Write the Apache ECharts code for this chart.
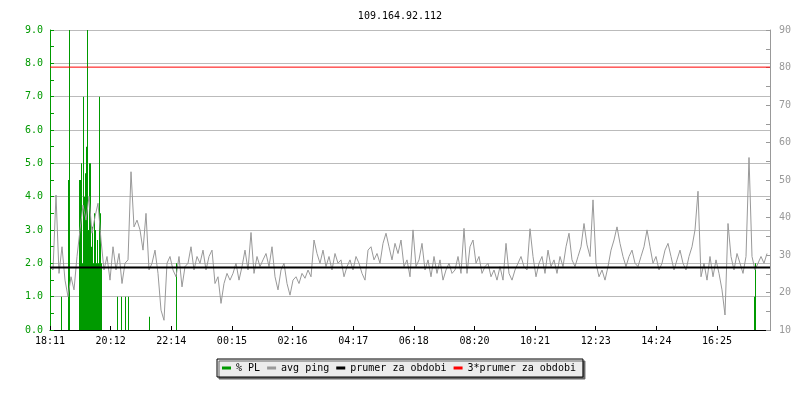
<!DOCTYPE html>
<html>
<head>
<meta charset="utf-8">
<title>109.164.92.112</title>
<script src="https://cdn.jsdelivr.net/npm/echarts@6/dist/echarts.min.js"></script>
<style>
  html, body { margin: 0; padding: 0; background: #fff; }
  #chart { width: 800px; height: 400px; }
</style>
</head>
<body>
<div id="chart"></div>
<script>
// time axis: minutes since 18:11, one day
const spanMinutes = 1440
const xLabels = ['18:11', '20:12', '22:14', '00:15', '02:16', '04:17', '06:18', '08:20', '10:21', '12:23', '14:24', '16:25']
const labelStep = 1334 / 11

// % PL (left axis), minute -> value
const plTimes = [22, 36, 38,
  58, 60, 62, 64, 66, 68, 70, 72, 74, 76, 78, 80, 82, 84, 86, 88, 90, 92, 94, 96, 98, 100, 102,
  134, 142, 150, 156, 198, 252, 1408, 1410]
const plValues = [1.0, 4.5, 9.0,
  4.5, 4.5, 5.0, 2.0, 7.0, 4.0, 4.7, 5.5, 9.0, 3.0, 5.0, 5.0, 2.5, 3.1, 2.0, 3.5, 3.0, 2.0, 2.7, 2.0, 7.0, 3.5, 2.0,
  1.0, 1.0, 1.0, 1.0, 0.4, 2.0, 1.0, 2.0]

// avg ping (right axis), one sample every 6 minutes
const pingStep = 6
const pingValues = [
  26.9, 26, 46, 25.1, 32.2, 23.3, 18.9, 24.2, 20.7, 29.6,
  36.7, 43.3, 39.3, 45.6, 35.8, 40.2, 43.8, 34, 26, 29.6,
  23.3, 32.2, 26, 30.4, 22.4, 27.8, 28.7, 52.2, 37.5, 39.3,
  36.7, 31.3, 41.1, 26, 27.8, 31.3, 25.1, 15.3, 12.6, 27.8,
  29.6, 26, 24.2, 29.6, 21.5, 26.9, 27.8, 32.2, 26, 29.6,
  27.8, 31.3, 26, 29.6, 31.3, 22.4, 24.2, 17.1, 22.4, 25.1,
  23.3, 25.1, 27.8, 23.3, 26.9, 31.3, 26, 36, 25.1, 29.6,
  26.9, 28.7, 30.4, 26.9, 32.2, 24.2, 20.7, 26, 27.8, 22.4,
  19.3, 23.3, 24.2, 22.4, 25.1, 23.8, 26, 24.2, 34, 30.4,
  27.8, 31.3, 26.9, 29.6, 26, 30.4, 27.8, 28.7, 24.2, 26.9,
  28.7, 26, 29.6, 27.8, 25.1, 23.3, 31.3, 32.2, 28.7, 30.4,
  27.8, 33.1, 35.8, 32.2, 28.7, 33.1, 30.4, 34, 26.9, 28.7,
  24.2, 36.7, 26.9, 28.7, 33.1, 26, 28.7, 24.2, 29.6, 25.1,
  28.7, 23.3, 26, 27.8, 25.1, 26, 29.6, 25.1, 37.1, 25.1,
  32.2, 34, 27.8, 29.6, 25.1, 26.9, 27.8, 24.2, 26, 23.3,
  26.9, 23.3, 33.1, 25.1, 23.3, 26, 27.8, 29.6, 26.9, 26,
  37, 29.6, 24.2, 27.8, 29.6, 25.1, 31.3, 26.9, 28.7, 25.1,
  29.6, 26.9, 32.2, 35.8, 28.7, 26.9, 29.6, 32.2, 38.4, 32.7,
  29.6, 44.7, 27.8, 24.2, 26, 23.3, 26.9, 31.3, 34, 37.5,
  33.1, 29.6, 26.9, 29.6, 31.3, 27.8, 26.9, 29.6, 32.2, 36.7,
  32.2, 27.8, 29.6, 26, 27.8, 31.3, 33.1, 29.6, 26, 28.7,
  31.3, 27.8, 26, 29.6, 32.2, 36.7, 47, 24.2, 27.8, 23.3,
  29.6, 24.2, 28.7, 25.1, 20.7, 14, 38.4, 29.6, 26, 30.4,
  27.8, 25.1, 29.6, 56, 29.6, 26, 27.8, 29.6, 27.8, 30.4
]

// period average and 3x average (right axis)
const avgPing = 26.7
const avgPing3 = 80.1

const font = 'DejaVu Sans Mono'
const green = '#009a00'
const chart = echarts.init(document.getElementById('chart'))

// one pixel wide impulse per loss sample, snapped to the pixel grid
const renderImpulse = (params, api) => {
  const top = api.coord([api.value(0), api.value(1)])
  const base = api.coord([api.value(0), 0])
  return {
    type: 'rect',
    shape: { x: Math.floor(top[0]), y: top[1], width: 1, height: base[1] - top[1] },
    style: { fill: green }
  }
}

const option = {
  animation: false,
  backgroundColor: '#fff',
  textStyle: { fontFamily: font, fontSize: 10 },
  title: {
    text: '109.164.92.112',
    left: 'center',
    top: 6,
    textStyle: { fontFamily: font, fontSize: 10, fontWeight: 'normal', color: '#000' }
  },
  legend: {
    left: 217,
    top: 359,
    icon: 'rect',
    itemWidth: 9,
    itemHeight: 3,
    itemGap: 7,
    padding: [4, 7, 4, 5],
    backgroundColor: '#ececec',
    borderColor: '#000',
    borderWidth: 1,
    shadowColor: '#666',
    shadowBlur: 0,
    shadowOffsetX: 2,
    shadowOffsetY: 2,
    textStyle: { fontFamily: font, fontSize: 10, color: '#000' },
    data: ['% PL', 'avg ping', 'prumer za obdobi', '3*prumer za obdobi']
  },
  grid: { left: 50, right: 30, top: 30, bottom: 70 },
  xAxis: {
    type: 'value',
    min: 0,
    max: spanMinutes,
    interval: labelStep,
    axisLine: { lineStyle: { color: '#000' } },
    axisTick: { inside: true, length: 4, lineStyle: { color: '#000' } },
    axisLabel: {
      color: '#000',
      fontFamily: font,
      fontSize: 10,
      margin: 6,
      showMaxLabel: false,
      formatter: v => {
        const i = Math.round(v / labelStep)
        return Math.abs(v - i * labelStep) < 1 && xLabels[i] ? xLabels[i] : ''
      }
    },
    splitLine: { show: false }
  },
  yAxis: [
    {
      type: 'value',
      min: 0,
      max: 9,
      interval: 1,
      position: 'left',
      axisLine: { show: true, lineStyle: { color: green } },
      axisTick: { show: true, inside: true, length: 4, lineStyle: { color: green } },
      minorTick: { show: true, splitNumber: 2, length: 4, lineStyle: { color: green } },
      axisLabel: { color: green, fontFamily: font, fontSize: 10, margin: 7, formatter: v => v.toFixed(1) },
      splitLine: { show: true, lineStyle: { color: '#bbb', width: 1 } }
    },
    {
      type: 'value',
      min: 10,
      max: 90,
      interval: 10,
      position: 'right',
      axisLine: { show: true, lineStyle: { color: '#999' } },
      axisTick: { show: true, inside: true, length: 4, lineStyle: { color: '#999' } },
      minorTick: { show: true, splitNumber: 2, length: 4, lineStyle: { color: '#999' } },
      axisLabel: { color: '#999', fontFamily: font, fontSize: 10, margin: 9 },
      splitLine: { show: false }
    }
  ],
  series: [
    {
      name: '% PL',
      type: 'custom',
      yAxisIndex: 0,
      renderItem: renderImpulse,
      itemStyle: { color: green },
      encode: { x: 0, y: 1 },
      clip: true,
      z: 1,
      data: plTimes.map((t, i) => [t, plValues[i]])
    },
    {
      name: 'avg ping',
      type: 'line',
      yAxisIndex: 1,
      symbol: 'none',
      lineStyle: { color: '#999', width: 1 },
      itemStyle: { color: '#999' },
      z: 2,
      data: pingValues.map((v, i) => [i * pingStep, v])
    },
    {
      name: 'prumer za obdobi',
      type: 'line',
      yAxisIndex: 1,
      symbol: 'none',
      lineStyle: { color: '#000', width: 2 },
      itemStyle: { color: '#000' },
      z: 3,
      data: [[0, avgPing], [spanMinutes, avgPing]]
    },
    {
      name: '3*prumer za obdobi',
      type: 'line',
      yAxisIndex: 1,
      symbol: 'none',
      lineStyle: { color: '#f00', width: 1 },
      itemStyle: { color: '#f00' },
      z: 3,
      data: [[0, avgPing3], [spanMinutes, avgPing3]]
    }
  ]
}

chart.setOption(option)
</script>
</body>
</html>
